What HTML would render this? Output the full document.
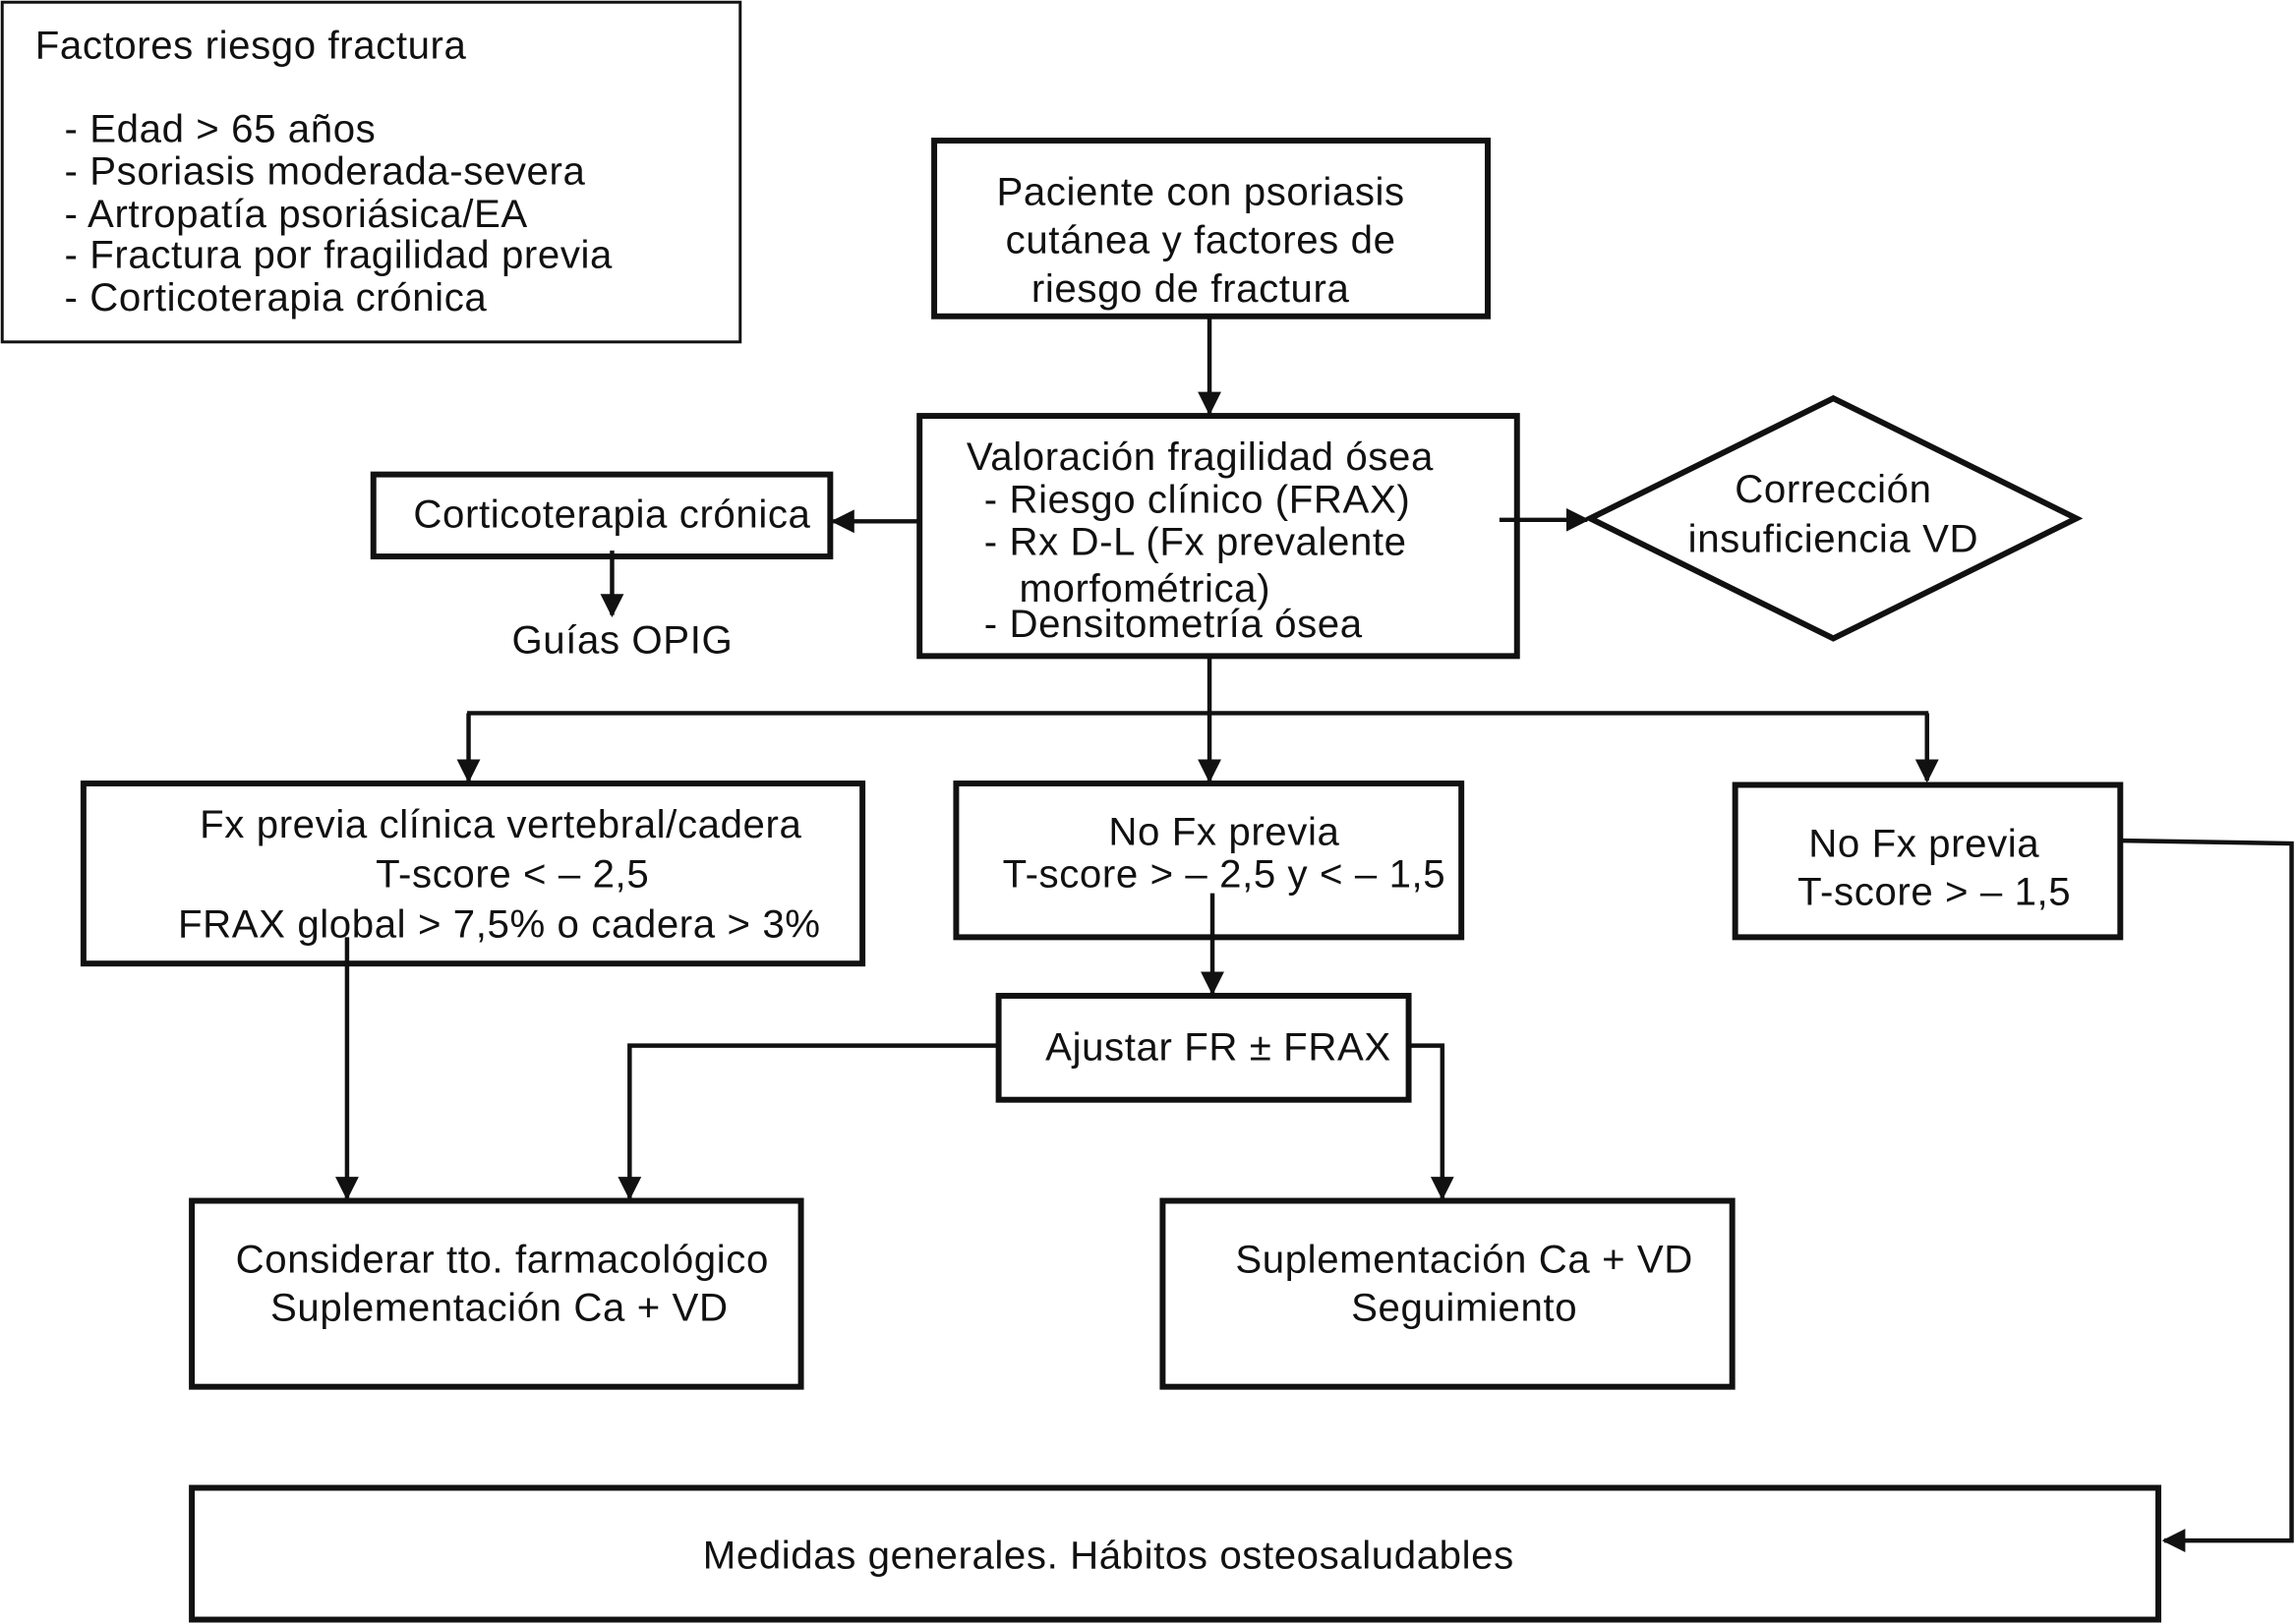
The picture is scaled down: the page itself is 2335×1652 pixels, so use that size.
<!DOCTYPE html>
<html><head><meta charset="utf-8"><style>
html,body{margin:0;padding:0;background:#fff}
svg{display:block}
text{font-family:"Liberation Sans",sans-serif;font-size:27px;letter-spacing:0.4px;fill:#111}
</style></head><body>
<svg width="2335" height="1652" viewBox="0 0 1568 1109" preserveAspectRatio="none">
<defs>
<marker id="b" viewBox="0 0 10 10" markerWidth="16" markerHeight="16" refX="9" refY="5" orient="auto" markerUnits="userSpaceOnUse"><path d="M0,0 L10,5 L0,10 z" fill="#111"/></marker></defs>
<g fill="none" stroke="#111">
<rect x="1.5" y="1.5" width="504" height="232" stroke-width="2"/>
<rect x="638" y="96" width="378" height="120" stroke-width="4"/>
<rect x="628" y="284" width="408" height="164" stroke-width="4"/>
<rect x="255" y="324" width="312" height="56" stroke-width="4"/>
<polygon points="1086,354 1252,272 1418,354 1252,436" stroke-width="4"/>
<rect x="57" y="535" width="532" height="123" stroke-width="4"/>
<rect x="653" y="535" width="345" height="105" stroke-width="4"/>
<rect x="1185" y="536" width="263" height="104" stroke-width="4"/>
<rect x="682" y="680" width="280" height="71" stroke-width="4"/>
<rect x="131" y="820" width="416" height="127" stroke-width="4"/>
<rect x="794" y="820" width="389" height="127" stroke-width="4"/>
<rect x="131" y="1016" width="1343" height="90" stroke-width="4"/>
<g stroke-width="3" marker-end="url(#b)">
<line x1="826" y1="216" x2="826" y2="282"/>
<line x1="628" y1="356" x2="569" y2="356"/>
<line x1="1024" y1="355" x2="1084" y2="355"/>
<line x1="418" y1="376" x2="418" y2="420"/>
<line x1="826" y1="448" x2="826" y2="533"/>
<polyline points="320,487 320,533"/>
<polyline points="1316,487 1316,533"/>
<line x1="828" y1="610" x2="828" y2="678"/>
<polyline points="682,714 430,714 430,818"/>
<polyline points="962,714 985,714 985,818"/>
<line x1="237" y1="640" x2="237" y2="818"/>
<polyline points="1448,574 1565,576 1565,1052 1478,1052"/>
</g>
<line x1="319" y1="487" x2="1317" y2="487" stroke-width="3"/>
</g>
<text x="24" y="40">Factores riesgo fractura</text>
<text x="44" y="97">-  Edad &gt; 65 años</text>
<text x="44" y="126">-  Psoriasis moderada-severa</text>
<text x="44" y="155">-  Artropatía psoriásica/EA</text>
<text x="44" y="183">-  Fractura por fragilidad previa</text>
<text x="44" y="212">-  Corticoterapia crónica</text>
<text x="820" y="140" text-anchor="middle">Paciente con psoriasis</text>
<text x="820" y="173" text-anchor="middle">cutánea y factores de</text>
<text x="813" y="206" text-anchor="middle">riesgo de fractura</text>
<text x="660" y="321">Valoración fragilidad ósea</text>
<text x="672" y="350">-  Riesgo clínico (FRAX)</text>
<text x="672" y="379">-  Rx D-L (Fx prevalente</text>
<text x="696" y="411">morfométrica)</text>
<text x="672" y="435">-  Densitometría ósea</text>
<text x="418" y="360" text-anchor="middle">Corticoterapia crónica</text>
<text x="425" y="446" text-anchor="middle">Guías OPIG</text>
<text x="1252" y="343" text-anchor="middle">Corrección</text>
<text x="1252" y="377" text-anchor="middle">insuficiencia VD</text>
<text x="342" y="572" text-anchor="middle">Fx previa clínica vertebral/cadera</text>
<text x="350" y="606" text-anchor="middle">T-score &lt; – 2,5</text>
<text x="341" y="640" text-anchor="middle">FRAX global &gt; 7,5% o cadera &gt; 3%</text>
<text x="836" y="577" text-anchor="middle">No Fx previa</text>
<text x="836" y="606" text-anchor="middle">T-score &gt; – 2,5 y &lt; – 1,5</text>
<text x="1314" y="585" text-anchor="middle">No Fx previa</text>
<text x="1321" y="618" text-anchor="middle">T-score &gt; – 1,5</text>
<text x="832" y="724" text-anchor="middle">Ajustar FR ± FRAX</text>
<text x="343" y="869" text-anchor="middle">Considerar tto. farmacológico</text>
<text x="341" y="902" text-anchor="middle">Suplementación Ca + VD</text>
<text x="1000" y="869" text-anchor="middle">Suplementación Ca + VD</text>
<text x="1000" y="902" text-anchor="middle">Seguimiento</text>
<text x="757" y="1071" text-anchor="middle">Medidas generales. Hábitos osteosaludables</text>
</svg>
</body></html>
